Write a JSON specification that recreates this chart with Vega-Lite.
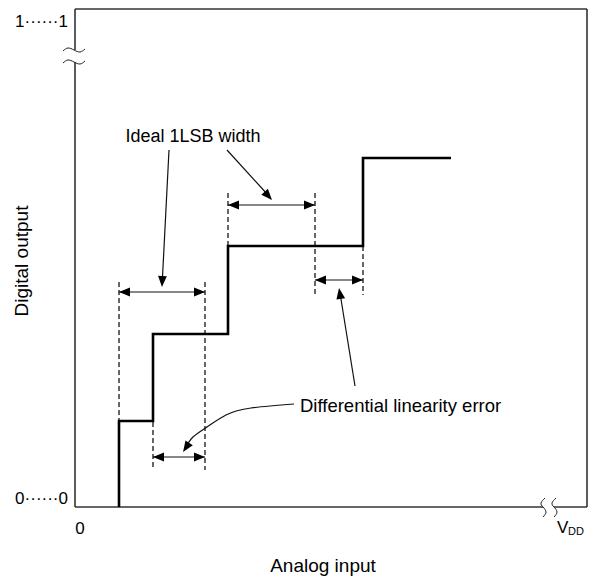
{
  "$schema": "https://vega.github.io/schema/vega-lite/v6.json",
  "width": 512,
  "height": 498,
  "autosize": {"type": "none"},
  "padding": {"left": 75, "top": 9, "right": 5, "bottom": 71},
  "background": "white",
  "config": {"view": {"stroke": null}, "font": "Liberation Sans"},
  "datasets": {
    "frame": [
      {"x": 0, "x2": 468, "y": 0, "y2": 0},
      {"x": 479, "x2": 512, "y": 0, "y2": 0},
      {"x": 0, "x2": 512, "y": 498, "y2": 498},
      {"x": 512, "x2": 512, "y": 0, "y2": 498},
      {"x": 0, "x2": 0, "y": 0, "y2": 445},
      {"x": 0, "x2": 0, "y": 457, "y2": 498}
    ],
    "steps": [
      {"i": 0, "x": 44, "y": 0},
      {"i": 1, "x": 44, "y": 86},
      {"i": 2, "x": 78, "y": 86},
      {"i": 3, "x": 78, "y": 173},
      {"i": 4, "x": 153, "y": 173},
      {"i": 5, "x": 153, "y": 261},
      {"i": 6, "x": 288, "y": 261},
      {"i": 7, "x": 288, "y": 349},
      {"i": 8, "x": 376, "y": 349}
    ],
    "dashed": [
      {"x": 44, "y": 225, "y2": 86},
      {"x": 130, "y": 225, "y2": 37},
      {"x": 78, "y": 173, "y2": 37},
      {"x": 153, "y": 314, "y2": 261},
      {"x": 240, "y": 314, "y2": 212},
      {"x": 288, "y": 261, "y2": 212}
    ],
    "shafts": [
      {"x": 44, "x2": 130, "y": 215, "y2": 215},
      {"x": 153, "x2": 240, "y": 302, "y2": 302},
      {"x": 240, "x2": 288, "y": 227, "y2": 227},
      {"x": 78, "x2": 130, "y": 50, "y2": 50},
      {"x": 94, "x2": 87.3, "y": 357, "y2": 226},
      {"x": 152, "x2": 193, "y": 357, "y2": 312},
      {"x": 280, "x2": 265, "y": 121, "y2": 214}
    ],
    "curve": [
      {"i": 0, "x": 219, "y": 103},
      {"i": 1, "x": 176, "y": 99},
      {"i": 2, "x": 151, "y": 92},
      {"i": 3, "x": 132, "y": 80},
      {"i": 4, "x": 118, "y": 70},
      {"i": 5, "x": 111, "y": 60}
    ],
    "heads": [
      {"x": 49.5, "y": 215, "heading": 270},
      {"x": 124.5, "y": 215, "heading": 90},
      {"x": 158.5, "y": 302, "heading": 270},
      {"x": 234.5, "y": 302, "heading": 90},
      {"x": 245.5, "y": 227, "heading": 270},
      {"x": 282.5, "y": 227, "heading": 90},
      {"x": 83.5, "y": 50, "heading": 270},
      {"x": 124.5, "y": 50, "heading": 90},
      {"x": 87.2, "y": 225.5, "heading": 182.5},
      {"x": 193.3, "y": 311.1, "heading": 138},
      {"x": 264.9, "y": 213.6, "heading": 350.8},
      {"x": 111.1, "y": 59.6, "heading": 213.7}
    ],
    "breaks": [
      {"id": "y1", "i": 0, "x": -12, "y": 456},
      {"id": "y1", "i": 1, "x": -7, "y": 459},
      {"id": "y1", "i": 2, "x": -1, "y": 457},
      {"id": "y1", "i": 3, "x": 5, "y": 455},
      {"id": "y1", "i": 4, "x": 10, "y": 458},
      {"id": "y2", "i": 0, "x": -12, "y": 444},
      {"id": "y2", "i": 1, "x": -7, "y": 447},
      {"id": "y2", "i": 2, "x": -1, "y": 445},
      {"id": "y2", "i": 3, "x": 5, "y": 443},
      {"id": "y2", "i": 4, "x": 10, "y": 446},
      {"id": "x1", "i": 0, "x": 470, "y": 9},
      {"id": "x1", "i": 1, "x": 466, "y": 4},
      {"id": "x1", "i": 2, "x": 468, "y": 0},
      {"id": "x1", "i": 3, "x": 471, "y": -5},
      {"id": "x1", "i": 4, "x": 468, "y": -10},
      {"id": "x2", "i": 0, "x": 481, "y": 9},
      {"id": "x2", "i": 1, "x": 477, "y": 4},
      {"id": "x2", "i": 2, "x": 479, "y": 0},
      {"id": "x2", "i": 3, "x": 482, "y": -5},
      {"id": "x2", "i": 4, "x": 479, "y": -10}
    ]
  },
  "layer": [
    {
      "data": {"name": "frame"},
      "mark": {"type": "rule", "color": "#333", "strokeWidth": 1.6},
      "encoding": {
        "x": {"field": "x", "type": "quantitative", "scale": {"domain": [0, 512], "nice": false, "zero": false}, "axis": null},
        "x2": {"field": "x2"},
        "y": {"field": "y", "type": "quantitative", "scale": {"domain": [0, 498], "nice": false, "zero": false}, "axis": null},
        "y2": {"field": "y2"}
      }
    },
    {
      "data": {"name": "breaks"},
      "mark": {"type": "line", "color": "#222", "strokeWidth": 1, "interpolate": "natural"},
      "encoding": {
        "x": {"field": "x", "type": "quantitative"},
        "y": {"field": "y", "type": "quantitative"},
        "detail": {"field": "id"},
        "order": {"field": "i"}
      }
    },
    {
      "data": {"name": "dashed"},
      "mark": {"type": "rule", "color": "#000", "strokeWidth": 1.2, "strokeDash": [5, 3]},
      "encoding": {
        "x": {"field": "x", "type": "quantitative"},
        "y": {"field": "y", "type": "quantitative"},
        "y2": {"field": "y2"}
      }
    },
    {
      "data": {"name": "steps"},
      "mark": {"type": "line", "color": "#000", "strokeWidth": 2.6, "strokeJoin": "miter", "strokeCap": "butt"},
      "encoding": {
        "x": {"field": "x", "type": "quantitative"},
        "y": {"field": "y", "type": "quantitative"},
        "order": {"field": "i"}
      }
    },
    {
      "data": {"name": "shafts"},
      "mark": {"type": "rule", "color": "#111", "strokeWidth": 1.2},
      "encoding": {
        "x": {"field": "x", "type": "quantitative"},
        "x2": {"field": "x2"},
        "y": {"field": "y", "type": "quantitative"},
        "y2": {"field": "y2"}
      }
    },
    {
      "data": {"name": "curve"},
      "mark": {"type": "line", "color": "#111", "strokeWidth": 1.2, "interpolate": "natural"},
      "encoding": {
        "x": {"field": "x", "type": "quantitative"},
        "y": {"field": "y", "type": "quantitative"},
        "order": {"field": "i"}
      }
    },
    {
      "data": {"name": "heads"},
      "mark": {"type": "point", "shape": "M0,-1L0.8,1L-0.8,1Z", "filled": true, "color": "#000", "opacity": 1, "size": 121},
      "encoding": {
        "x": {"field": "x", "type": "quantitative"},
        "y": {"field": "y", "type": "quantitative"},
        "angle": {"field": "heading", "type": "quantitative", "scale": null}
      }
    },
    {
      "data": {"values": [{"x": 118, "y": 370, "label": "Ideal 1LSB width"}]},
      "mark": {"type": "text", "fontSize": 18, "align": "center", "baseline": "middle", "color": "#000"},
      "encoding": {
        "x": {"field": "x", "type": "quantitative"},
        "y": {"field": "y", "type": "quantitative"},
        "text": {"field": "label"}
      }
    },
    {
      "data": {"values": [{"x": 225, "y": 101, "label": "Differential linearity error"}]},
      "mark": {"type": "text", "fontSize": 18.5, "align": "left", "baseline": "middle", "color": "#000"},
      "encoding": {
        "x": {"field": "x", "type": "quantitative"},
        "y": {"field": "y", "type": "quantitative"},
        "text": {"field": "label"}
      }
    },
    {
      "data": {"values": [{"x": -7, "y": 485, "label": "1······1"}, {"x": -7, "y": 8, "label": "0······0"}]},
      "mark": {"type": "text", "fontSize": 17, "align": "right", "baseline": "middle", "color": "#000"},
      "encoding": {
        "x": {"field": "x", "type": "quantitative"},
        "y": {"field": "y", "type": "quantitative"},
        "text": {"field": "label"}
      }
    },
    {
      "data": {"values": [{"x": 5, "y": -22, "label": "0"}]},
      "mark": {"type": "text", "fontSize": 17, "align": "center", "baseline": "middle", "color": "#000"},
      "encoding": {
        "x": {"field": "x", "type": "quantitative"},
        "y": {"field": "y", "type": "quantitative"},
        "text": {"field": "label"}
      }
    },
    {
      "data": {"values": [{"x": 482, "y": -21, "label": "V"}]},
      "mark": {"type": "text", "fontSize": 17, "align": "left", "baseline": "middle", "color": "#000"},
      "encoding": {
        "x": {"field": "x", "type": "quantitative"},
        "y": {"field": "y", "type": "quantitative"},
        "text": {"field": "label"}
      }
    },
    {
      "data": {"values": [{"x": 493, "y": -25, "label": "DD"}]},
      "mark": {"type": "text", "fontSize": 11, "align": "left", "baseline": "middle", "color": "#000"},
      "encoding": {
        "x": {"field": "x", "type": "quantitative"},
        "y": {"field": "y", "type": "quantitative"},
        "text": {"field": "label"}
      }
    },
    {
      "data": {"values": [{"x": -53, "y": 246, "label": "Digital output"}]},
      "mark": {"type": "text", "fontSize": 19, "angle": 270, "align": "center", "baseline": "middle", "color": "#000"},
      "encoding": {
        "x": {"field": "x", "type": "quantitative"},
        "y": {"field": "y", "type": "quantitative"},
        "text": {"field": "label"}
      }
    },
    {
      "data": {"values": [{"x": 248, "y": -59, "label": "Analog input"}]},
      "mark": {"type": "text", "fontSize": 19, "align": "center", "baseline": "middle", "color": "#000"},
      "encoding": {
        "x": {"field": "x", "type": "quantitative"},
        "y": {"field": "y", "type": "quantitative"},
        "text": {"field": "label"}
      }
    }
  ]
}
